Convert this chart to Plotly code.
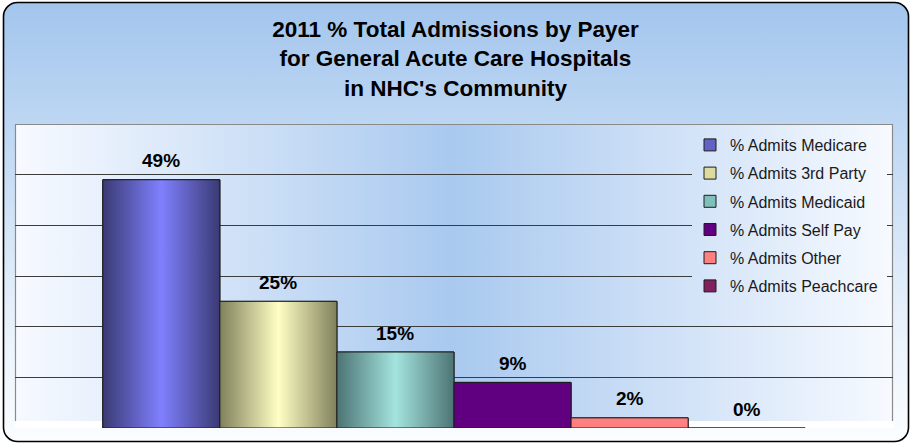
import base64
import plotly.graph_objects as go

# ---- data -----------------------------------------------------------------
payers = ["% Admits Medicare", "% Admits 3rd Party", "% Admits Medicaid",
          "% Admits Self Pay", "% Admits Other", "% Admits Peachcare"]
share_pct = [49, 25, 15, 9, 2, 0]
title_lines = ["2011 % Total Admissions by Payer",
               "for General Acute Care Hospitals",
               "in NHC's Community"]
grid_values = [10, 20, 30, 40, 50]
y_max = 60

# ---- styling --------------------------------------------------------------
legend_colors = ["#6262c4", "#dcdca0", "#80c0bc", "#600080", "#ff8080", "#802060"]
bar_shades = [
    ("#3a3a74", "#8080ff"),
    ("#80805c", "#ffffc4"),
    ("#4c7474", "#a4e4de"),
    ("#600080", "#600080"),
    ("#ff8080", "#ff8080"),
    ("#802060", "#802060"),
]
FONT = "Liberation Sans, Arial, sans-serif"
W, H = 911, 444
ML, MR, MT, MB = 15, 18, 124, 16
PW, PH = W - ML - MR, H - MT - MB
BAR_W = 1.0


def svg_uri(svg):
    return "data:image/svg+xml;base64," + base64.b64encode(svg.encode()).decode()


plot_grad = (
    '<linearGradient id="pg" gradientUnits="userSpaceOnUse" x1="{x0}" y1="0" x2="{x1}" y2="0">'
    '<stop offset="0" stop-color="#f7faff"/>'
    '<stop offset="0.5" stop-color="#a9c9ef"/>'
    '<stop offset="1" stop-color="#f7faff"/></linearGradient>'
).format(x0=ML, x1=ML + PW)

# chart frame + plot area background
frame_svg = f'''<svg xmlns="http://www.w3.org/2000/svg" width="{W}" height="{H}" viewBox="0 0 {W} {H}">
<defs>
<linearGradient id="fg" x1="0" y1="0" x2="0" y2="1">
<stop offset="0" stop-color="#a3c5ed"/>
<stop offset="0.3" stop-color="#bfd8f3"/>
<stop offset="0.7" stop-color="#e6f0fb"/>
<stop offset="1" stop-color="#fbfdff"/>
</linearGradient>
{plot_grad}
</defs>
<rect x="3.5" y="2.5" width="905" height="439" rx="14" ry="14" fill="url(#fg)" stroke="#000" stroke-width="1.6"/>
<rect x="{ML}" y="{MT}" width="{PW}" height="{PH - 7}" fill="url(#pg)"/>
<rect x="{ML}" y="{MT + PH - 7}" width="{PW}" height="7" fill="#ffffff"/>
<path d="M{ML + 0.5},{MT + PH - 7} V{MT + 0.5} H{ML + PW - 0.5} V{MT + PH - 7}" fill="none" stroke="#8a8a8a" stroke-width="1.2"/>
</svg>'''

# legend panel, same gradient, hides the gridlines behind the legend
lx0, lx1, ly0, ly1 = 692, 887, MT + 1.5, 305
legend_svg = f'''<svg xmlns="http://www.w3.org/2000/svg" width="{lx1 - lx0}" height="{ly1 - ly0}" viewBox="{lx0} {ly0} {lx1 - lx0} {ly1 - ly0}">
<defs>{plot_grad}</defs>
<rect x="{lx0}" y="{ly0}" width="{lx1 - lx0}" height="{ly1 - ly0}" fill="url(#pg)"/>
</svg>'''

fig = go.Figure()

for i, (name, v) in enumerate(zip(payers, share_pct)):
    grp = f"g{i}"
    fig.add_trace(go.Bar(
        x=[i], y=[v], width=[BAR_W], name=name, legendgroup=grp,
        marker=dict(color=legend_colors[i], line=dict(color="#1c1c1c", width=1)),
        hovertemplate=f"{name}: {v}%<extra></extra>",
    ))
    if v <= 0:
        continue
    # shaded face of the bar (horizontal gradient)
    edge, mid = bar_shades[i]
    x0, x1 = i - BAR_W / 2, i + BAR_W / 2
    fig.add_trace(go.Scatter(
        x=[x0, x0, x1, x1, x0], y=[0, v, v, 0, 0],
        mode="lines", fill="toself", legendgroup=grp, showlegend=False,
        line=dict(color="#1c1c1c", width=1),
        fillgradient=dict(type="horizontal",
                          colorscale=[[0, edge], [0.5, mid], [1, edge]]),
        hoverinfo="skip",
    ))

for i, v in enumerate(share_pct):
    fig.add_annotation(x=i, y=v, text=f"{v}%", showarrow=False,
                       yanchor="middle", yshift=19,
                       font=dict(family=FONT, size=19, color="#000", weight="bold"))

fig.update_layout(
    width=W, height=H,
    margin=dict(l=ML, r=MR, t=MT, b=MB, pad=0),
    paper_bgcolor="#ffffff",
    plot_bgcolor="rgba(0,0,0,0)",
    barmode="overlay",
    showlegend=True,
    title=dict(text="<br>".join(title_lines), x=0.5, xanchor="center",
               y=1 - 37 / H, yanchor="middle", yref="container",
               font=dict(family=FONT, size=22.5, color="#000", weight="bold")),
    legend=dict(x=(690 - ML) / PW, xanchor="left", y=(MT + PH - 128) / PH, yanchor="top",
                bgcolor="rgba(0,0,0,0)", borderwidth=0, traceorder="grouped",
                tracegroupgap=4.4,
                font=dict(family=FONT, size=16, color="#1a1a1a")),
    xaxis=dict(range=[-1.25, 6.25], showgrid=False, zeroline=False,
               showticklabels=False, showline=False, fixedrange=True),
    yaxis=dict(range=[0, y_max], tickvals=grid_values, showgrid=True,
               gridcolor="#3c3c3c", gridwidth=1.2, zeroline=False,
               showticklabels=False, showline=False, fixedrange=True),
    images=[
        dict(source=svg_uri(frame_svg), xref="paper", yref="paper",
             x=-ML / PW, y=1 + MT / PH, sizex=W / PW, sizey=H / PH,
             xanchor="left", yanchor="top", sizing="stretch", layer="below"),
        dict(source=svg_uri(legend_svg), xref="paper", yref="paper",
             x=(lx0 - ML) / PW, y=(MT + PH - ly0) / PH,
             sizex=(lx1 - lx0) / PW, sizey=(ly1 - ly0) / PH,
             xanchor="left", yanchor="top", sizing="stretch", layer="above"),
    ],
)

fig.write_html("out.html")
